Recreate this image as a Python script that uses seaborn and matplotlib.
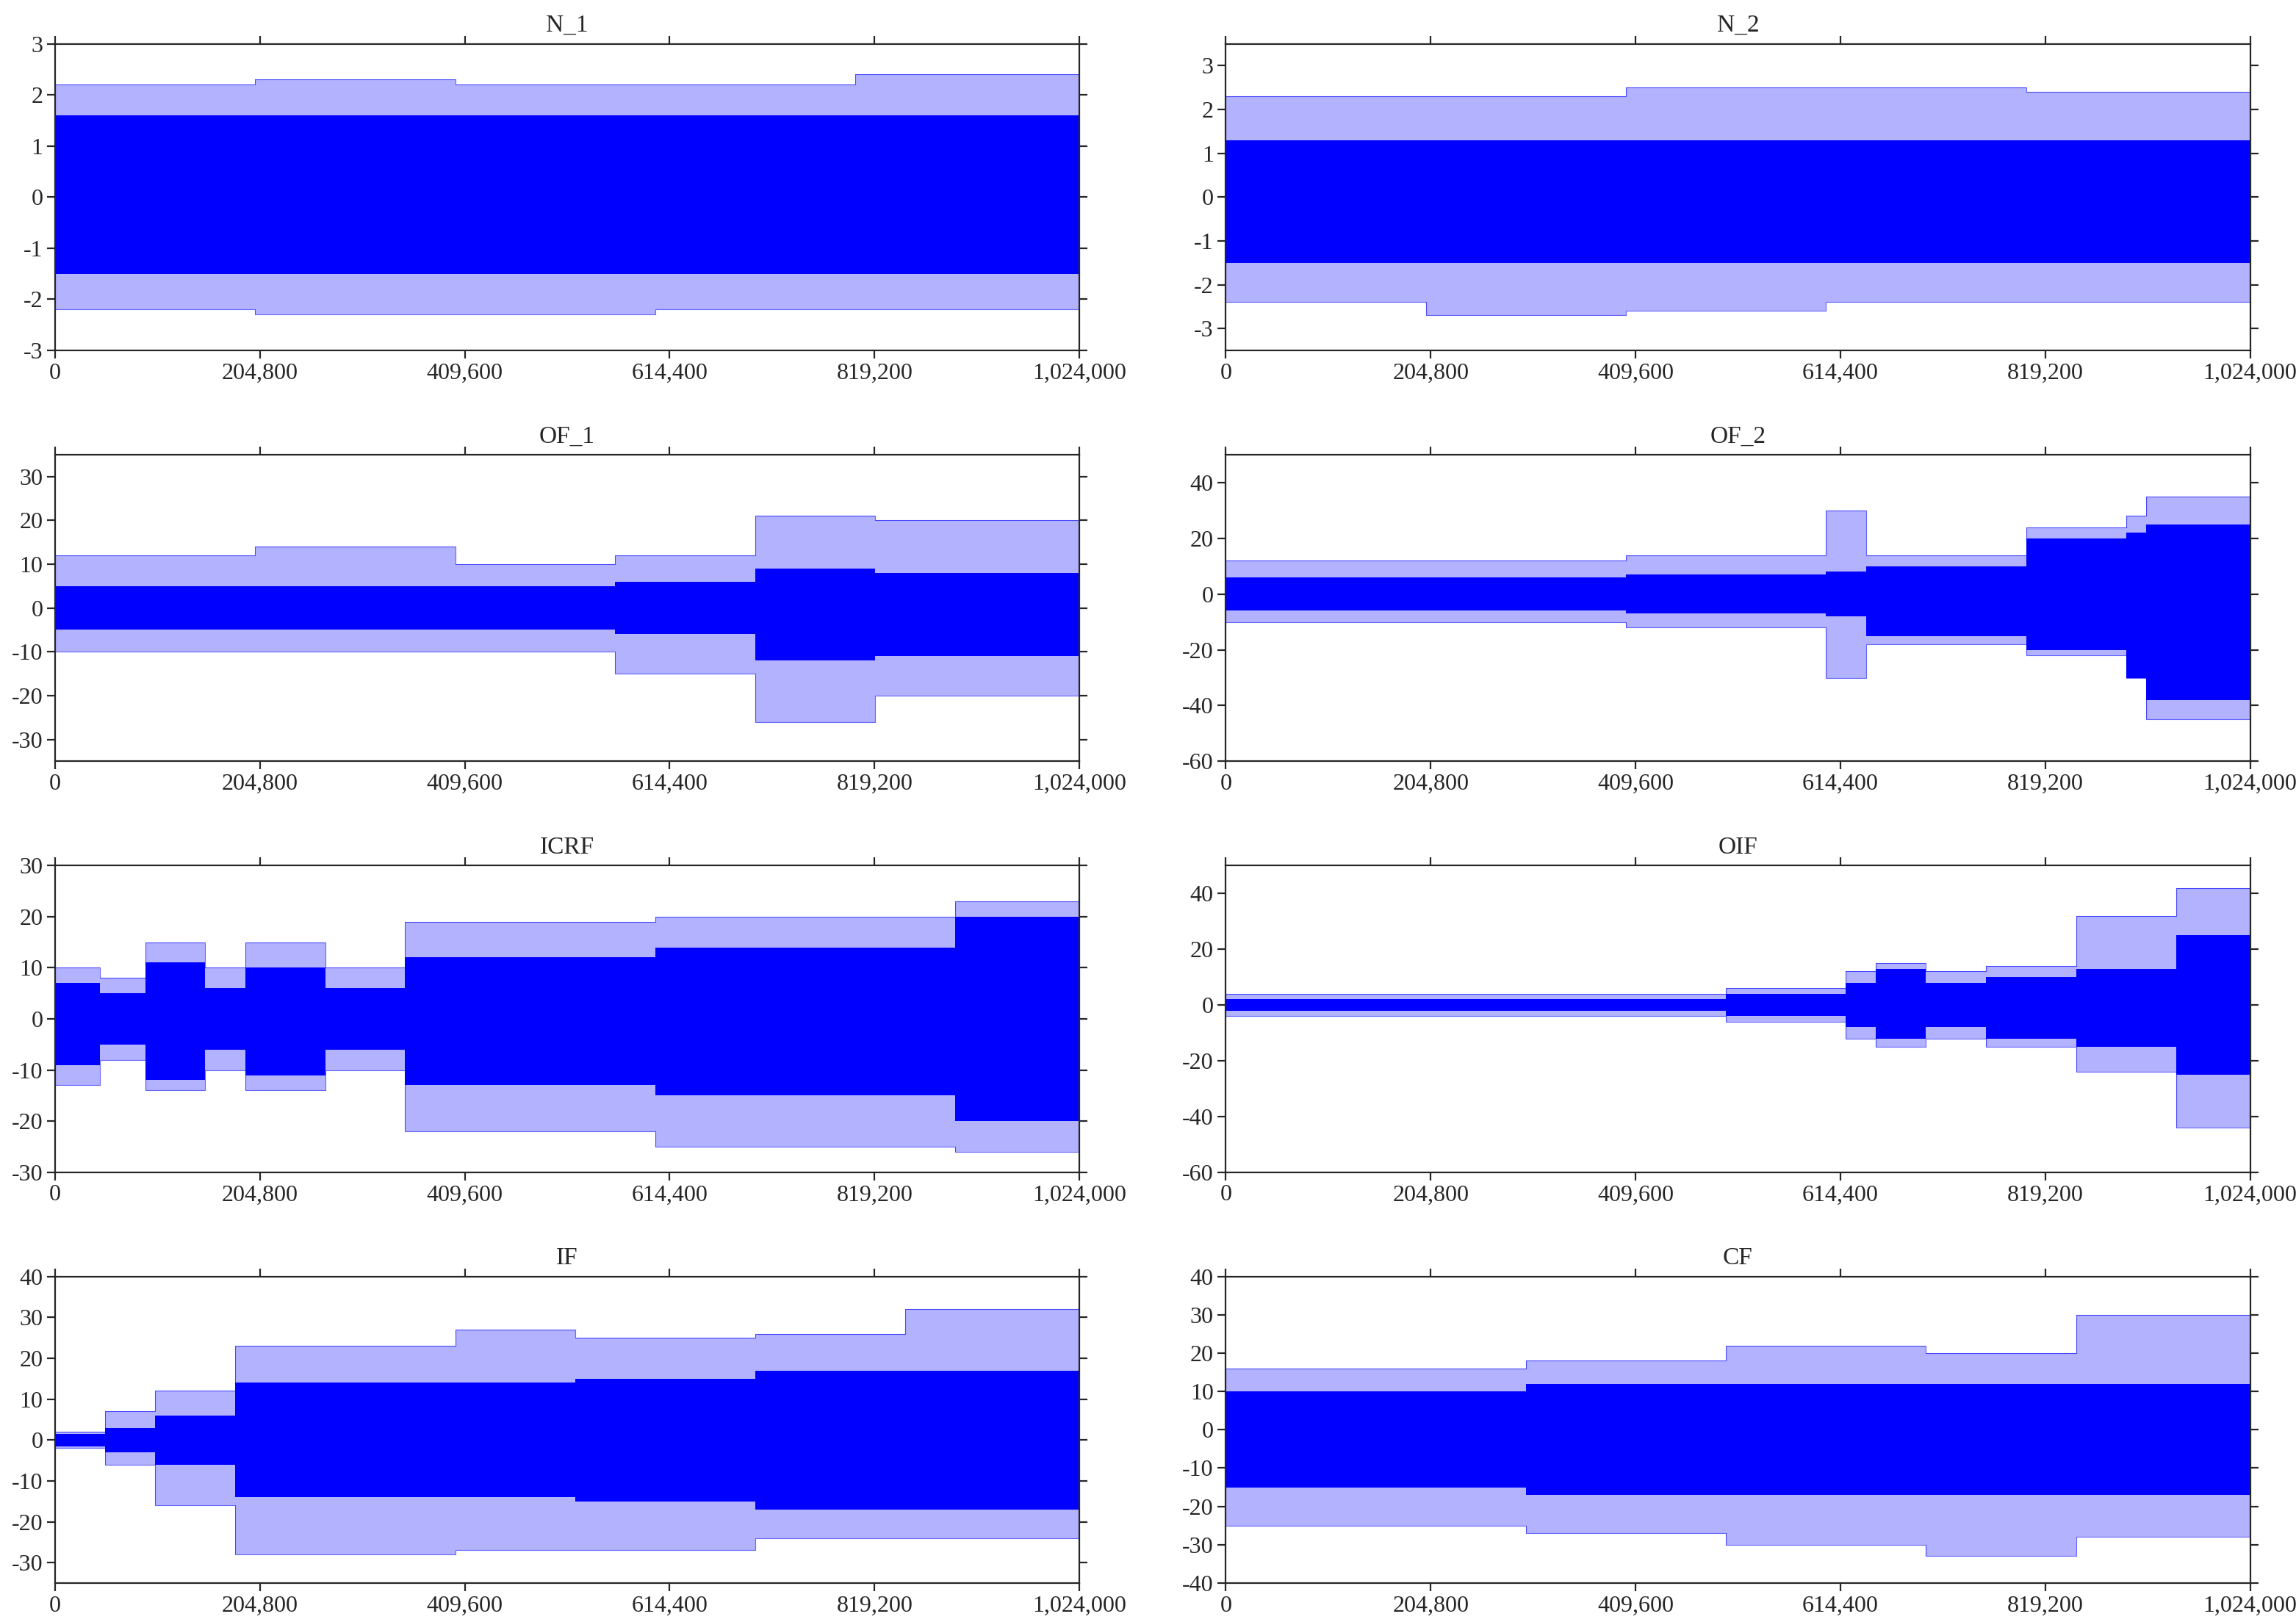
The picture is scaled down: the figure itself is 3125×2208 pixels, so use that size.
import numpy as np
import pandas as pd
import matplotlib
matplotlib.use("Agg")
import matplotlib.pyplot as plt
import seaborn as sns

N_SAMPLES = 1024000
XTICKS = [0, 204800, 409600, 614400, 819200, 1024000]

TITLES = ["N_1", "N_2", "OF_1", "OF_2", "ICRF", "OIF", "IF", "CF"]

# segment edges (samples) and per-segment amplitudes
EDGES = {
    "N_1": [0, 200000, 400000, 600000, 800000, 1024000],
    "N_2": [0, 200000, 400000, 600000, 800000, 1024000],
    "OF_1": [0, 200000, 400000, 560000, 700000, 820000, 1024000],
    "OF_2": [0, 200000, 400000, 600000, 640000, 800000, 900000, 920000, 1024000],
    "ICRF": [0, 45000, 90000, 150000, 190000, 270000, 350000, 600000, 900000, 1024000],
    "OIF": [0, 300000, 500000, 620000, 650000, 700000, 760000, 850000, 950000, 1024000],
    "IF": [0, 50000, 100000, 180000, 400000, 520000, 700000, 850000, 1024000],
    "CF": [0, 150000, 300000, 500000, 700000, 850000, 1024000],
}
DENSE_HI = {
    "N_1": [1.6, 1.6, 1.6, 1.6, 1.6],
    "N_2": [1.3, 1.3, 1.3, 1.3, 1.3],
    "OF_1": [5, 5, 5, 6, 9, 8],
    "OF_2": [6, 6, 7, 8, 10, 20, 22, 25],
    "ICRF": [7, 5, 11, 6, 10, 6, 12, 14, 20],
    "OIF": [2, 2, 4, 8, 13, 8, 10, 13, 25],
    "IF": [1.5, 3, 6, 14, 14, 15, 17, 17],
    "CF": [10, 10, 12, 12, 12, 12],
}
DENSE_LO = {
    "N_1": [-1.5, -1.5, -1.5, -1.5, -1.5],
    "N_2": [-1.5, -1.5, -1.5, -1.5, -1.5],
    "OF_1": [-5, -5, -5, -6, -12, -11],
    "OF_2": [-6, -6, -7, -8, -15, -20, -30, -38],
    "ICRF": [-9, -5, -12, -6, -11, -6, -13, -15, -20],
    "OIF": [-2, -2, -4, -8, -12, -8, -12, -15, -25],
    "IF": [-1.5, -3, -6, -14, -14, -15, -17, -17],
    "CF": [-15, -15, -17, -17, -17, -17],
}
PEAK_HI = {
    "N_1": [2.2, 2.3, 2.2, 2.2, 2.4],
    "N_2": [2.3, 2.3, 2.5, 2.5, 2.4],
    "OF_1": [12, 14, 10, 12, 21, 20],
    "OF_2": [12, 12, 14, 30, 14, 24, 28, 35],
    "ICRF": [10, 8, 15, 10, 15, 10, 19, 20, 23],
    "OIF": [4, 4, 6, 12, 15, 12, 14, 32, 42],
    "IF": [2, 7, 12, 23, 27, 25, 26, 32],
    "CF": [16, 16, 18, 22, 20, 30],
}
PEAK_LO = {
    "N_1": [-2.2, -2.3, -2.3, -2.2, -2.2],
    "N_2": [-2.4, -2.7, -2.6, -2.4, -2.4],
    "OF_1": [-10, -10, -10, -15, -26, -20],
    "OF_2": [-10, -10, -12, -30, -18, -22, -30, -45],
    "ICRF": [-13, -8, -14, -10, -14, -10, -22, -25, -26],
    "OIF": [-4, -4, -6, -12, -15, -12, -15, -24, -44],
    "IF": [-2, -6, -16, -28, -27, -27, -24, -24],
    "CF": [-25, -25, -27, -30, -33, -28],
}
YLIM = {
    "N_1": (-3, 3), "N_2": (-3.5, 3.5), "OF_1": (-35, 35), "OF_2": (-60, 50),
    "ICRF": (-30, 30), "OIF": (-60, 50), "IF": (-35, 40), "CF": (-40, 40),
}
YTICKS = {
    "N_1": range(-3, 4), "N_2": range(-3, 4), "OF_1": range(-30, 31, 10),
    "OF_2": range(-60, 41, 20), "ICRF": range(-30, 31, 10),
    "OIF": range(-60, 41, 20), "IF": range(-30, 41, 10), "CF": range(-40, 41, 10),
}

sns.set_style("ticks")
plt.rcParams["font.family"] = ["Liberation Serif", "DejaVu Serif"]
plt.rcParams["axes.unicode_minus"] = False
plt.rcParams["font.size"] = 11.5

fig, axes = plt.subplots(4, 2, figsize=(15.625, 11.04), dpi=200)
fig.subplots_adjust(left=0.024, right=0.98, top=0.973, bottom=0.024,
                    wspace=0.143, hspace=0.34)

for ax, name in zip(axes.flat, TITLES):
    edges = EDGES[name]
    x = np.array(edges)
    steps = lambda v: np.append(v, v[-1])
    df = pd.DataFrame({"x": x,
                       "dhi": steps(DENSE_HI[name]), "dlo": steps(DENSE_LO[name]),
                       "phi": steps(PEAK_HI[name]), "plo": steps(PEAK_LO[name])})
    ax.fill_between(df["x"], df["plo"], df["phi"], step="post",
                    color="#0000ff", alpha=0.3, linewidth=0)
    ax.fill_between(df["x"], df["dlo"], df["dhi"], step="post",
                    color="#0000ff", linewidth=0)
    sns.lineplot(data=df, x="x", y="phi", drawstyle="steps-post", ax=ax,
                 color="#0000ff", linewidth=0.4, alpha=0.6)
    sns.lineplot(data=df, x="x", y="plo", drawstyle="steps-post", ax=ax,
                 color="#0000ff", linewidth=0.4, alpha=0.6)
    ax.set_xlim(0, N_SAMPLES)
    ax.set_ylim(*YLIM[name])
    ax.set_xticks(XTICKS)
    ax.set_xticklabels([f"{t:,}" for t in XTICKS])
    ax.set_yticks(list(YTICKS[name]))
    ax.set_xlabel("")
    ax.set_ylabel("")
    ax.set_title(name, fontsize=12)
    ax.tick_params(top=True, right=True, direction="out", length=4, width=0.8,
                   pad=2)
    for s in ax.spines.values():
        s.set_linewidth(0.8)
        s.set_visible(True)

fig.savefig("out.png", dpi=200)
